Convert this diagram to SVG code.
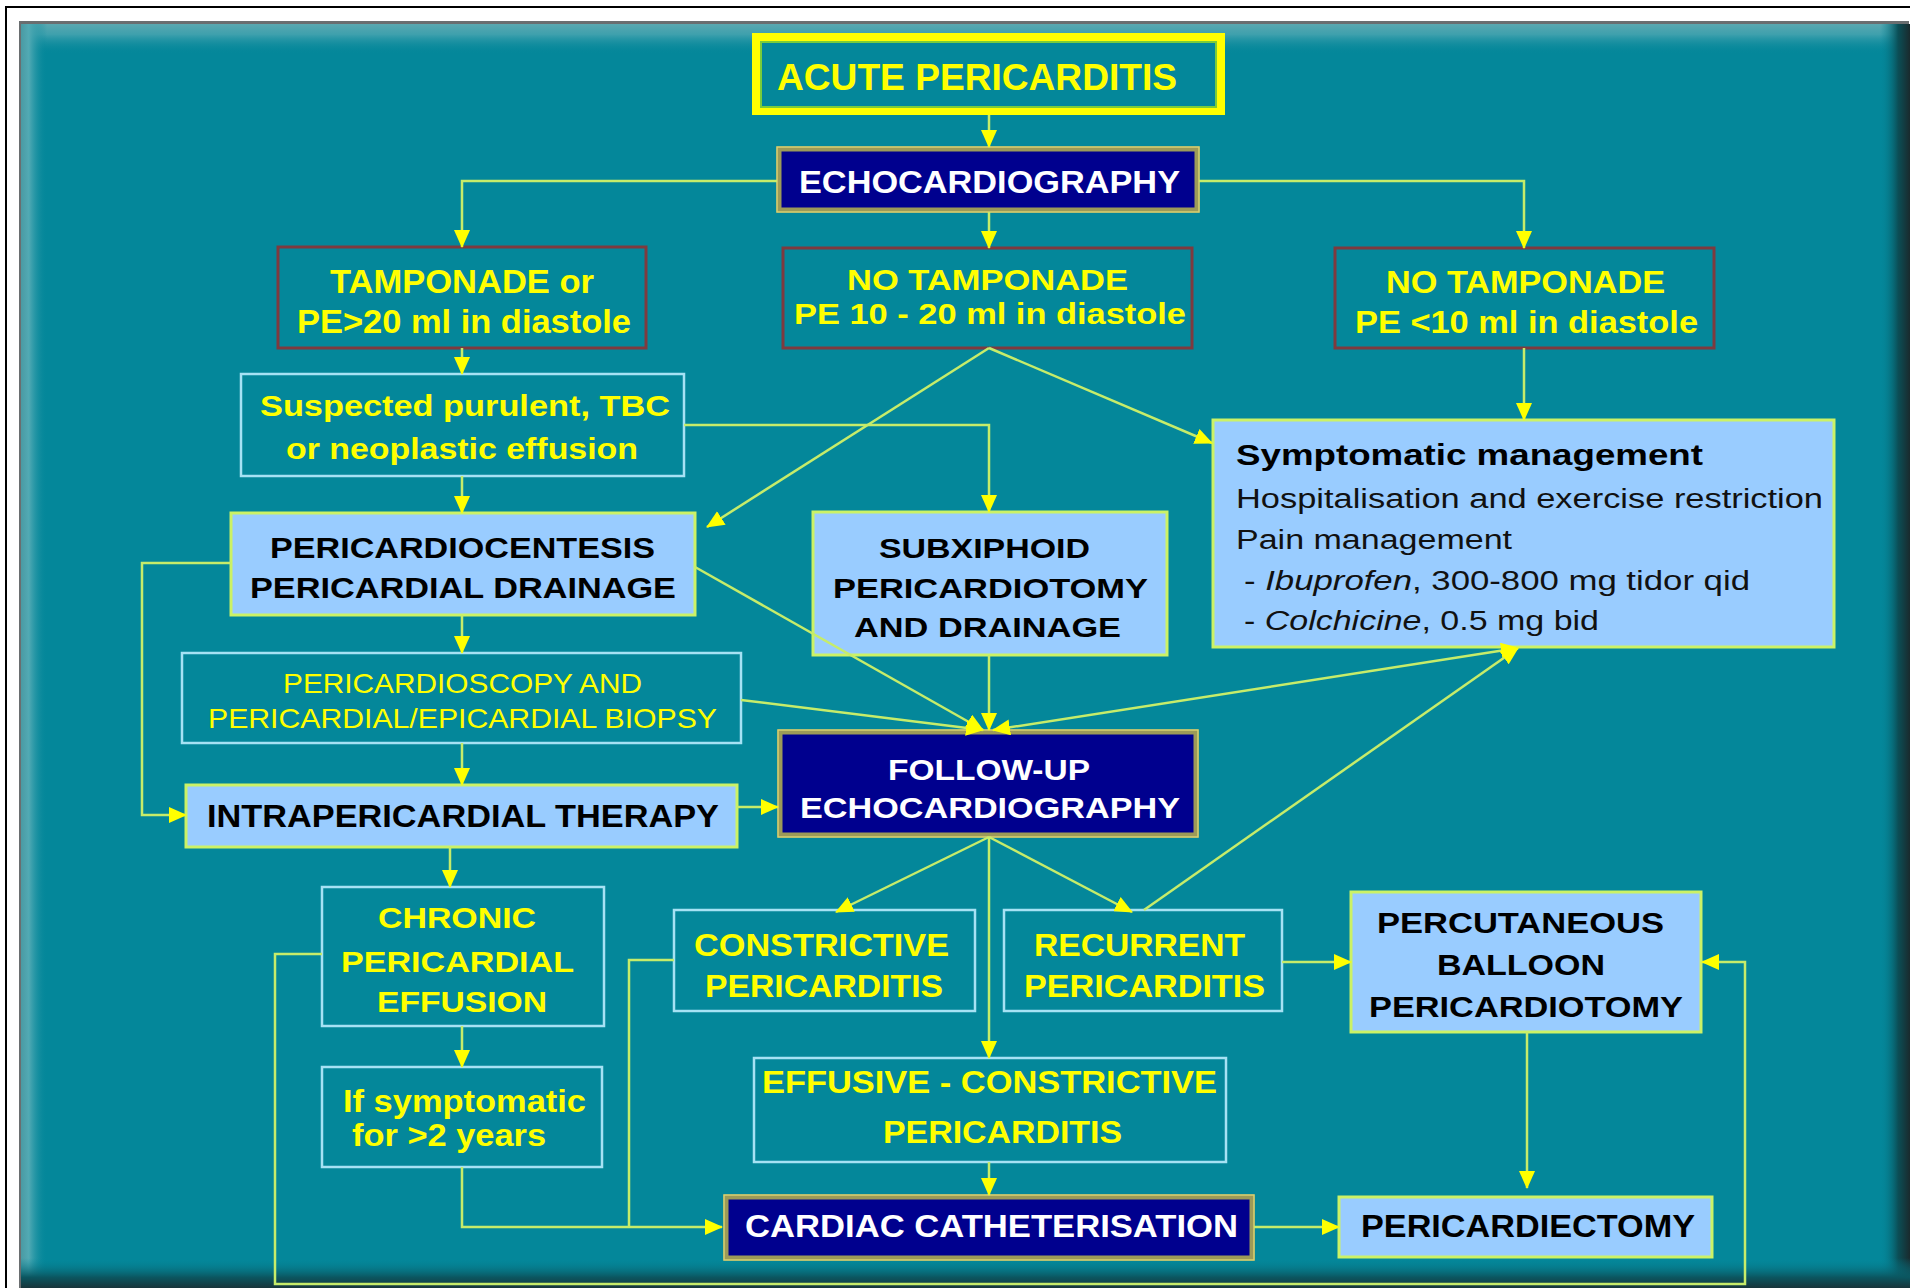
<svg xmlns="http://www.w3.org/2000/svg" width="1910" height="1288" viewBox="0 0 1910 1288">
<defs>
<style>
text{font-family:"Liberation Sans",Arial,sans-serif;}
.ty{fill:#ffff00;font-weight:bold;}
.tyr{fill:#ffff00;}
.tb{fill:#000;font-weight:bold;}
.tk{fill:#111;}
.tw{fill:#fff;font-weight:bold;}
.red{fill:none;stroke:#7e3a3e;stroke-width:3;}
.cy{fill:none;stroke:#a6e2f4;stroke-width:2.5;}
.lb{fill:#99ccff;stroke:#ccf266;stroke-width:3;}
.nv{fill:#00008e;stroke:#9c9a58;stroke-width:5;}
.nvi{fill:none;stroke:#d8d070;stroke-width:1.5;}
.c{fill:none;stroke:#c6ec6a;stroke-width:2.5;}
</style>
<marker id="ah" markerWidth="18" markerHeight="16" refX="17" refY="8" orient="auto-start-reverse" markerUnits="userSpaceOnUse"><path d="M0,0 L18,8 L0,16 z" fill="#ffff00"/></marker>
<linearGradient id="gTop" x1="0" y1="0" x2="0" y2="1"><stop offset="0" stop-color="#5aa8b0"/><stop offset="0.35" stop-color="#3ea0ad"/><stop offset="1" stop-color="#04879a" stop-opacity="0"/></linearGradient>
<linearGradient id="gLeft" x1="0" y1="0" x2="1" y2="0"><stop offset="0" stop-color="#4a9aa3"/><stop offset="0.3" stop-color="#52aab4"/><stop offset="1" stop-color="#04879a" stop-opacity="0"/></linearGradient>
<linearGradient id="gRight" x1="0" y1="0" x2="1" y2="0"><stop offset="0" stop-color="#04879a" stop-opacity="0"/><stop offset="0.6" stop-color="#0b4f57"/><stop offset="1" stop-color="#1a2a2d"/></linearGradient>
<linearGradient id="gBot" x1="0" y1="0" x2="0" y2="1"><stop offset="0" stop-color="#04879a" stop-opacity="0"/><stop offset="0.6" stop-color="#0b5660"/><stop offset="1" stop-color="#1a2f33"/></linearGradient>
</defs>

<rect x="0" y="0" width="1910" height="1288" fill="#ffffff"/>
<path d="M6,1288 L6,7 L1910,7" fill="none" stroke="#000" stroke-width="2"/>
<g id="panel">
<rect x="19" y="21" width="1890" height="1270" fill="#6a6e70"/>
<rect x="21" y="24" width="1886" height="1266" fill="#04879a"/>
<rect x="21" y="24" width="1886" height="30" fill="url(#gTop)"/>
<rect x="21" y="24" width="26" height="1266" fill="url(#gLeft)"/>
<rect x="1880" y="24" width="30" height="1266" fill="url(#gRight)"/>
<rect x="21" y="1258" width="1889" height="32" fill="url(#gBot)"/>
</g>

<g id="n-acute">
<rect x="752" y="33" width="473" height="82" fill="#ffff00"/>
<rect x="761" y="42" width="455" height="65" fill="#04879a" stroke="#7acc3a" stroke-width="2"/>
<text class="ty" x="777" y="90" font-size="37" textLength="400" lengthAdjust="spacingAndGlyphs">ACUTE PERICARDITIS</text>
</g>
<g id="n-echo">
<rect class="nv" x="779" y="149" width="418" height="61"/>
<rect class="nvi" x="777" y="147" width="422" height="65"/>
<text class="tw" x="799" y="193" font-size="32" textLength="381" lengthAdjust="spacingAndGlyphs">ECHOCARDIOGRAPHY</text>
</g>
<g id="n-tamponade">
<rect class="red" x="278" y="247" width="368" height="101"/>
<text class="ty" x="330" y="293" font-size="33" textLength="264" lengthAdjust="spacingAndGlyphs">TAMPONADE or</text>
<text class="ty" x="297" y="333" font-size="33" textLength="334" lengthAdjust="spacingAndGlyphs">PE&gt;20 ml in diastole</text>
</g>
<g id="n-notamp1020">
<rect class="red" x="783" y="248" width="409" height="100"/>
<text class="ty" x="847" y="290" font-size="30" textLength="281" lengthAdjust="spacingAndGlyphs">NO TAMPONADE</text>
<text class="ty" x="794" y="324" font-size="30" textLength="392" lengthAdjust="spacingAndGlyphs">PE 10 - 20 ml in diastole</text>
</g>
<g id="n-notamp10">
<rect class="red" x="1335" y="248" width="379" height="100"/>
<text class="ty" x="1386" y="293" font-size="32" textLength="279" lengthAdjust="spacingAndGlyphs">NO TAMPONADE</text>
<text class="ty" x="1355" y="333" font-size="32" textLength="343" lengthAdjust="spacingAndGlyphs">PE &lt;10 ml in diastole</text>
</g>
<g id="n-suspected">
<rect class="cy" x="241" y="374" width="443" height="102"/>
<text class="ty" x="260" y="416" font-size="30" textLength="410" lengthAdjust="spacingAndGlyphs">Suspected purulent, TBC</text>
<text class="ty" x="286" y="459" font-size="30" textLength="352" lengthAdjust="spacingAndGlyphs">or neoplastic effusion</text>
</g>
<g id="n-symptomatic">
<rect class="lb" x="1213" y="420" width="621" height="227"/>
<text class="tb" x="1236" y="465" font-size="30" textLength="467" lengthAdjust="spacingAndGlyphs">Symptomatic management</text>
<text class="tk" x="1236" y="508" font-size="27" textLength="587" lengthAdjust="spacingAndGlyphs">Hospitalisation and exercise restriction</text>
<text class="tk" x="1236" y="549" font-size="27" textLength="276" lengthAdjust="spacingAndGlyphs">Pain management</text>
<text class="tk" x="1244" y="590" font-size="27" textLength="506" lengthAdjust="spacingAndGlyphs">- <tspan font-style="italic">Ibuprofen</tspan>, 300-800 mg  tidor qid</text>
<text class="tk" x="1244" y="630" font-size="27" textLength="355" lengthAdjust="spacingAndGlyphs">- <tspan font-style="italic">Colchicine</tspan>, 0.5 mg bid</text>
</g>
<g id="n-pericardiocentesis">
<rect class="lb" x="231" y="513" width="464" height="102"/>
<text class="tb" x="270" y="558" font-size="29" textLength="385" lengthAdjust="spacingAndGlyphs">PERICARDIOCENTESIS</text>
<text class="tb" x="250" y="598" font-size="29" textLength="426" lengthAdjust="spacingAndGlyphs">PERICARDIAL DRAINAGE</text>
</g>
<g id="n-subxiphoid">
<rect class="lb" x="813" y="512" width="354" height="143"/>
<text class="tb" x="879" y="558" font-size="28" textLength="211" lengthAdjust="spacingAndGlyphs">SUBXIPHOID</text>
<text class="tb" x="833" y="598" font-size="28" textLength="315" lengthAdjust="spacingAndGlyphs">PERICARDIOTOMY</text>
<text class="tb" x="854" y="637" font-size="28" textLength="267" lengthAdjust="spacingAndGlyphs">AND DRAINAGE</text>
</g>
<g id="n-pericardioscopy">
<rect class="cy" x="182" y="653" width="559" height="90"/>
<text class="tyr" x="283" y="693" font-size="28" textLength="359" lengthAdjust="spacingAndGlyphs">PERICARDIOSCOPY AND</text>
<text class="tyr" x="208" y="728" font-size="28" textLength="509" lengthAdjust="spacingAndGlyphs">PERICARDIAL/EPICARDIAL BIOPSY</text>
</g>
<g id="n-followup">
<rect class="nv" x="780" y="732" width="416" height="103"/>
<rect class="nvi" x="778" y="730" width="420" height="107"/>
<text class="tw" x="888" y="780" font-size="30" textLength="202" lengthAdjust="spacingAndGlyphs">FOLLOW-UP</text>
<text class="tw" x="800" y="818" font-size="30" textLength="380" lengthAdjust="spacingAndGlyphs">ECHOCARDIOGRAPHY</text>
</g>
<g id="n-intrapericardial">
<rect class="lb" x="186" y="785" width="551" height="62"/>
<text class="tb" x="207" y="827" font-size="31" textLength="512" lengthAdjust="spacingAndGlyphs">INTRAPERICARDIAL THERAPY</text>
</g>
<g id="n-chronic">
<rect class="cy" x="322" y="887" width="282" height="139"/>
<text class="ty" x="378" y="928" font-size="30" textLength="158" lengthAdjust="spacingAndGlyphs">CHRONIC</text>
<text class="ty" x="341" y="972" font-size="30" textLength="233" lengthAdjust="spacingAndGlyphs">PERICARDIAL</text>
<text class="ty" x="377" y="1012" font-size="30" textLength="170" lengthAdjust="spacingAndGlyphs">EFFUSION</text>
</g>
<g id="n-constrictive">
<rect class="cy" x="674" y="910" width="301" height="101"/>
<text class="ty" x="694" y="956" font-size="32" textLength="255" lengthAdjust="spacingAndGlyphs">CONSTRICTIVE</text>
<text class="ty" x="705" y="997" font-size="32" textLength="238" lengthAdjust="spacingAndGlyphs">PERICARDITIS</text>
</g>
<g id="n-recurrent">
<rect class="cy" x="1004" y="910" width="278" height="101"/>
<text class="ty" x="1034" y="956" font-size="32" textLength="211" lengthAdjust="spacingAndGlyphs">RECURRENT</text>
<text class="ty" x="1024" y="997" font-size="32" textLength="241" lengthAdjust="spacingAndGlyphs">PERICARDITIS</text>
</g>
<g id="n-percutaneous">
<rect class="lb" x="1351" y="892" width="350" height="140"/>
<text class="tb" x="1377" y="933" font-size="29" textLength="287" lengthAdjust="spacingAndGlyphs">PERCUTANEOUS</text>
<text class="tb" x="1437" y="975" font-size="29" textLength="168" lengthAdjust="spacingAndGlyphs">BALLOON</text>
<text class="tb" x="1369" y="1017" font-size="29" textLength="314" lengthAdjust="spacingAndGlyphs">PERICARDIOTOMY</text>
</g>
<g id="n-ifsymptomatic">
<rect class="cy" x="322" y="1067" width="280" height="100"/>
<text class="ty" x="343" y="1112" font-size="31" textLength="243" lengthAdjust="spacingAndGlyphs">If symptomatic</text>
<text class="ty" x="352" y="1146" font-size="31" textLength="194" lengthAdjust="spacingAndGlyphs">for &gt;2 years</text>
</g>
<g id="n-effusive">
<rect class="cy" x="754" y="1058" width="472" height="104"/>
<text class="ty" x="762" y="1093" font-size="31" textLength="455" lengthAdjust="spacingAndGlyphs">EFFUSIVE - CONSTRICTIVE</text>
<text class="ty" x="883" y="1143" font-size="31" textLength="239" lengthAdjust="spacingAndGlyphs">PERICARDITIS</text>
</g>
<g id="n-cardiac">
<rect class="nv" x="726" y="1197" width="526" height="61"/>
<rect class="nvi" x="724" y="1195" width="530" height="65"/>
<text class="tw" x="745" y="1237" font-size="32" textLength="493" lengthAdjust="spacingAndGlyphs">CARDIAC CATHETERISATION</text>
</g>
<g id="n-pericardiectomy">
<rect class="lb" x="1339" y="1197" width="373" height="60"/>
<text class="tb" x="1361" y="1237" font-size="32" textLength="334" lengthAdjust="spacingAndGlyphs">PERICARDIECTOMY</text>
</g>

<g id="connectors">
<path class="c" d="M989,115 L989,147" marker-end="url(#ah)"/>
<path class="c" d="M777,181 L462,181 L462,247" marker-end="url(#ah)"/>
<path class="c" d="M989,212 L989,248" marker-end="url(#ah)"/>
<path class="c" d="M1199,181 L1524,181 L1524,248" marker-end="url(#ah)"/>
<path class="c" d="M462,348 L462,374" marker-end="url(#ah)"/>
<path class="c" d="M462,476 L462,513" marker-end="url(#ah)"/>
<path class="c" d="M684,425 L989,425 L989,512" marker-end="url(#ah)"/>
<path class="c" d="M989,348 L707,527" marker-end="url(#ah)"/>
<path class="c" d="M989,348 L1212,443" marker-end="url(#ah)"/>
<path class="c" d="M1524,348 L1524,420" marker-end="url(#ah)"/>
<path class="c" d="M462,615 L462,653" marker-end="url(#ah)"/>
<path class="c" d="M231,563 L142,563 L142,815 L186,815" marker-end="url(#ah)"/>
<path class="c" d="M695,567 L983,730" marker-end="url(#ah)"/>
<path class="c" d="M741,700 L983,730" marker-end="url(#ah)"/>
<path class="c" d="M989,655 L989,730" marker-end="url(#ah)"/>
<path class="c" d="M993,730 L1518,648" marker-start="url(#ah)" marker-end="url(#ah)"/>
<path class="c" d="M462,743 L462,785" marker-end="url(#ah)"/>
<path class="c" d="M737,807 L778,807" marker-end="url(#ah)"/>
<path class="c" d="M450,847 L450,887" marker-end="url(#ah)"/>
<path class="c" d="M989,837 L836,912" marker-end="url(#ah)"/>
<path class="c" d="M989,837 L1132,912" marker-end="url(#ah)"/>
<path class="c" d="M989,837 L989,1058" marker-end="url(#ah)"/>
<path class="c" d="M1144,910 L1518,648" marker-end="url(#ah)"/>
<path class="c" d="M1282,962 L1351,962" marker-end="url(#ah)"/>
<path class="c" d="M1527,1032 L1527,1188" marker-end="url(#ah)"/>
<path class="c" d="M462,1026 L462,1067" marker-end="url(#ah)"/>
<path class="c" d="M462,1167 L462,1227 L722,1227" marker-end="url(#ah)"/>
<path class="c" d="M674,960 L629,960 L629,1227"/>
<path class="c" d="M322,954 L275,954 L275,1284 L1745,1284 L1745,962 L1702,962" marker-end="url(#ah)"/>
<path class="c" d="M989,1162 L989,1195" marker-end="url(#ah)"/>
<path class="c" d="M1254,1227 L1339,1227" marker-end="url(#ah)"/>
</g>
</svg>
